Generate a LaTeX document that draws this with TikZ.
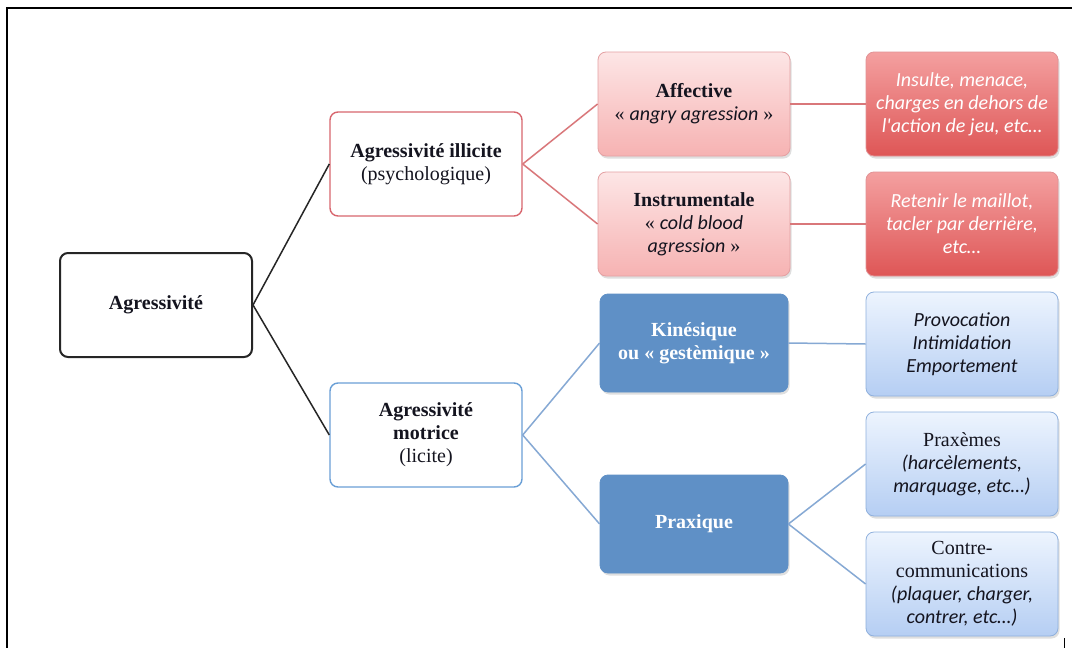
\documentclass[tikz,border=0pt]{standalone}
\usepackage{fontspec}
\setmainfont{Liberation Serif}
\newfontfamily\calfnt{Carlito}
\usetikzlibrary{shadows}
\definecolor{redline}{HTML}{D9777A}
\definecolor{redborder}{HTML}{D8666E}
\definecolor{redtopA}{HTML}{FDE6E6}
\definecolor{redbotA}{HTML}{F6B2B2}
\definecolor{redtopB}{HTML}{F4A0A0}
\definecolor{redbotB}{HTML}{DE5656}
\definecolor{blueline}{HTML}{86A9D4}
\definecolor{blueborder}{HTML}{6A9FD6}
\definecolor{bluefill}{HTML}{5F90C6}
\definecolor{bluetop}{HTML}{EDF4FE}
\definecolor{bluebot}{HTML}{B5CEF3}
\definecolor{bluebordB}{HTML}{8FB0DD}
\definecolor{textdark}{HTML}{14141F}
\newcommand{\itc}{\calfnt\itshape\fontsize{20}{23}\selectfont}
\tikzset{
  box/.style={rounded corners=8pt, minimum width=192pt, minimum height=104pt, align=center, inner sep=2pt, font=\fontsize{20}{23}\selectfont, text=textdark},
  shad/.style={drop shadow={opacity=0.25, shadow xshift=1.5pt, shadow yshift=-2.5pt}},
  rootbox/.style={box, draw=black!85, line width=2pt, fill=white},
  redA/.style={box, draw=redborder, line width=1.4pt, fill=white},
  blueA/.style={box, draw=blueborder, line width=1.4pt, fill=white},
  redB/.style={box, shad, draw=redline!70, line width=0.8pt, top color=redtopA, bottom color=redbotA},
  redC/.style={box, shad, draw=redline!80, line width=0.8pt, top color=redtopB, bottom color=redbotB, text=white, font=\itc},
  blueB/.style={box, shad, draw=bluefill, line width=0.8pt, fill=bluefill, text=white, minimum width=188pt, minimum height=98pt},
  blueC/.style={box, shad, draw=bluebordB, line width=0.8pt, top color=bluetop, bottom color=bluebot},
  redconn/.style={draw=redline, line width=1.5pt},
  blueconn/.style={draw=blueline, line width=1.5pt},
  blackconn/.style={draw=black!85, line width=1.5pt}
}
\begin{document}
\begin{tikzpicture}[x=1pt,y=-1pt]
\useasboundingbox (0,0) rectangle (1072,648);
\fill[white] (0,0) rectangle (1072,648);
% frame
\draw[line width=2pt] (7,648) -- (7,8) -- (1072,8);
\draw[line width=0.8pt] (1064,638) -- (1064,648);

\node[rootbox] (root) at (156,305) {\bfseries Agressivit\'e};
\node[redA] (ill) at (426,164) {\bfseries Agressivit\'e illicite\\(psychologique)};
\node[blueA] (mot) at (426,435) {\bfseries Agressivit\'e\\\bfseries motrice\\(licite)};

\node[redB] (aff) at (694,104) {\bfseries Affective\\\guillemotleft{} {\itc angry agression} \guillemotright};
\node[redB] (ins) at (694,224) {\bfseries Instrumentale\\\guillemotleft{} {\itc cold blood}\\{\itc agression} \guillemotright};
\node[blueB] (kin) at (694,343) {\bfseries Kin\'esique\\\bfseries ou \guillemotleft{} gest\`emique \guillemotright};
\node[blueB] (pra) at (694,524) {\bfseries Praxique};

\node[redC] (insu) at (962,104) {Insulte, menace,\\charges en dehors de\\l'action de jeu, etc\dots};
\node[redC] (ret) at (962,224) {Retenir le maillot,\\tacler par derri\`ere,\\etc\dots};
\node[blueC, font=\itc] (prov) at (962,344) {Provocation\\Intimidation\\Emportement};
\node[blueC] (pxm) at (962,464) {Prax\`emes\\{\itc (harc\`elements,}\\{\itc marquage, etc\dots)}};
\node[blueC] (cc) at (962,584) {Contre-\\communications\\{\itc (plaquer, charger,}\\{\itc contrer, etc\dots)}};

\draw[blackconn] (root.east) -- (ill.west);
\draw[blackconn] (root.east) -- (mot.west);
\draw[redconn] (ill.east) -- (aff.west);
\draw[redconn] (ill.east) -- (ins.west);
\draw[redconn] (aff.east) -- (insu.west);
\draw[redconn] (ins.east) -- (ret.west);
\draw[blueconn] (mot.east) -- (kin.west);
\draw[blueconn] (mot.east) -- (pra.west);
\draw[blueconn] (kin.east) -- (prov.west);
\draw[blueconn] (pra.east) -- (pxm.west);
\draw[blueconn] (pra.east) -- (cc.west);
\end{tikzpicture}
\end{document}
